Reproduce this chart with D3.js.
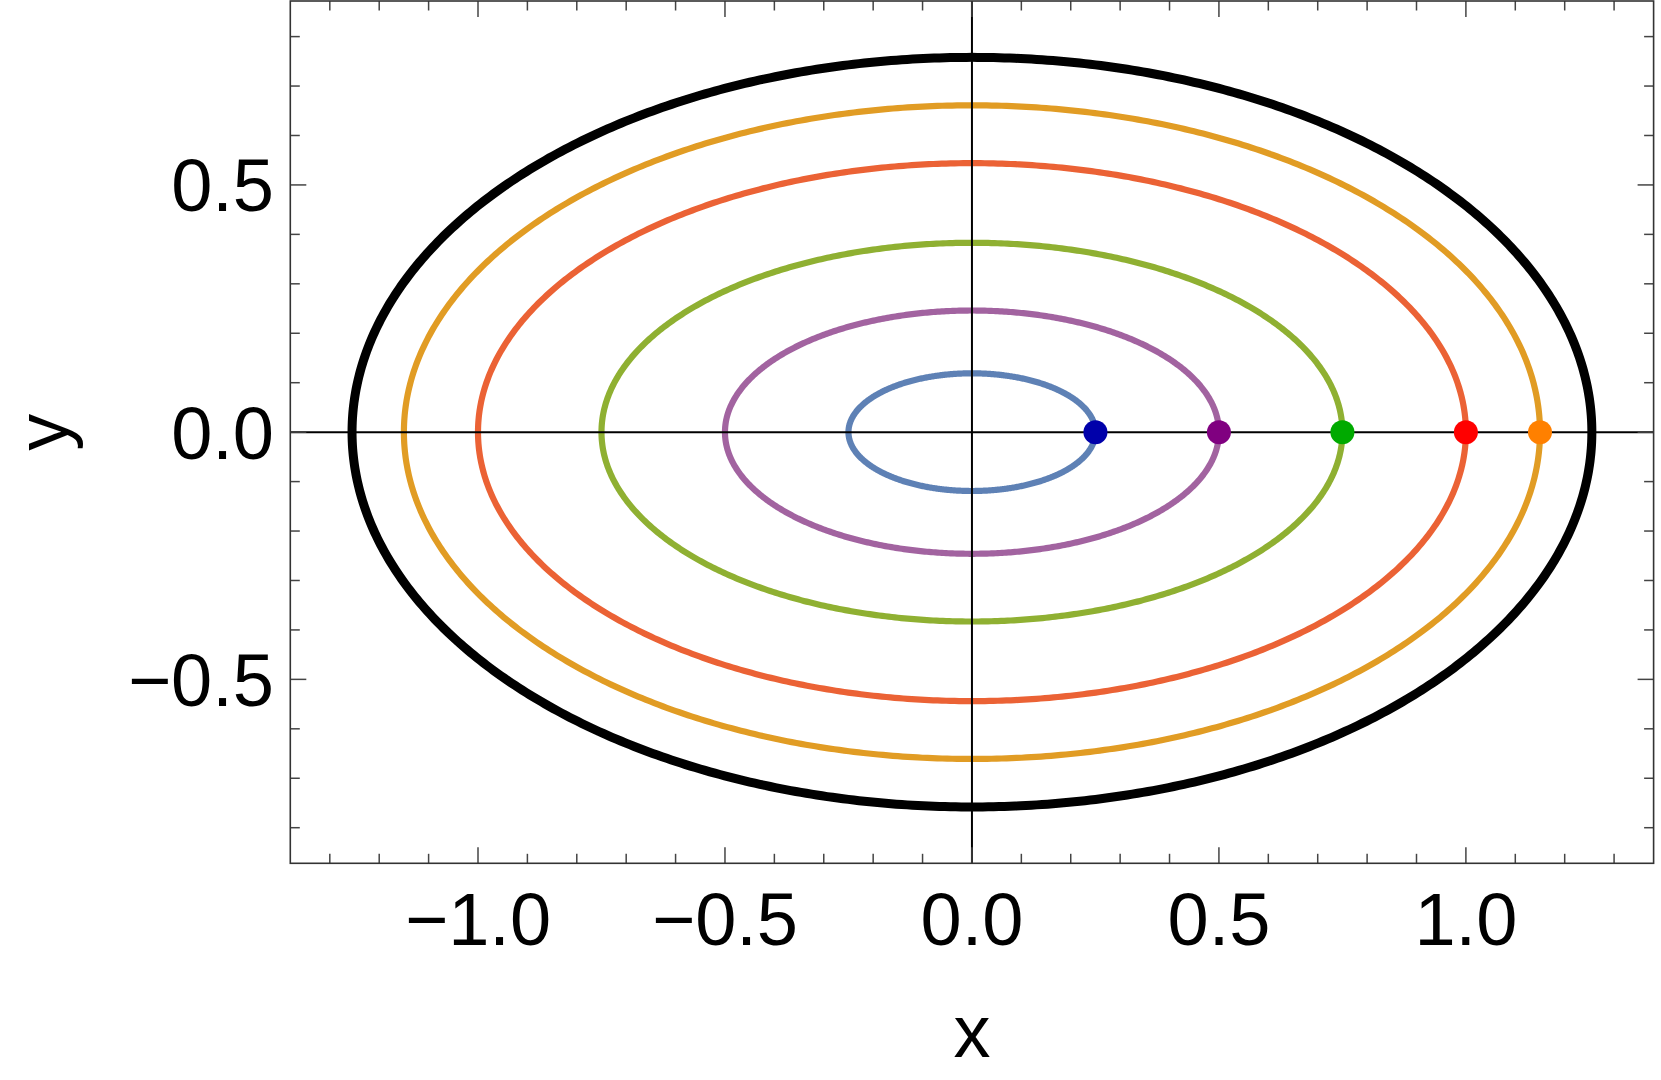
<!DOCTYPE html>
<html>
<head>
<meta charset="utf-8">
<script src="https://cdn.jsdelivr.net/npm/d3@7"></script>
<style>
  html, body { margin: 0; padding: 0; background: #fff; }
  svg { display: block; }
  text { font-family: "Liberation Sans", Arial, sans-serif; }
</style>
</head>
<body>
<svg id="chart" width="1661" height="1080"></svg>
<script>
// ---- data ----
const xDomain = [-1.38, 1.38];
const yDomain = [-0.872, 0.872];
const xMajorTicks = [-1.0, -0.5, 0.0, 0.5, 1.0];
const xTickLabels = ["−1.0", "−0.5", "0.0", "0.5", "1.0"];
const yMajorTicks = [-0.5, 0.0, 0.5];
const yTickLabels = ["−0.5", "0.0", "0.5"];
const xMinorTicks = [-1.3,-1.2,-1.1,-0.9,-0.8,-0.7,-0.6,-0.4,-0.3,-0.2,-0.1,0.1,0.2,0.3,0.4,0.6,0.7,0.8,0.9,1.1,1.2,1.3];
const yMinorTicks = [-0.8,-0.7,-0.6,-0.4,-0.3,-0.2,-0.1,0.1,0.2,0.3,0.4,0.6,0.7,0.8];

const orbitSemiX = [0.25, 0.50, 0.75, 1.00, 1.15, 1.255];
const orbitSemiY = [0.119, 0.246, 0.383, 0.544, 0.661, 0.758];
const orbitColors = ["#5E81B5", "#A263A0", "#8FB032", "#EB6235", "#E19C24", "#000000"];
const orbitWidths = [6.2, 6.2, 6.2, 6.2, 6.2, 9];

const pointX = [0.25, 0.50, 0.75, 1.00, 1.15];
const pointY = [0, 0, 0, 0, 0];
const pointColors = ["#0000AA", "#800080", "#00AA00", "#FF0000", "#FF8000"];

const xTitle = "x";
const yTitle = "y";

// ---- layout ----
const svg = d3.select("#chart");
const L = 290.3, R = 1653.6, T = 1, B = 863.3;
const x = d3.scaleLinear().domain(xDomain).range([L, R]);
const y = d3.scaleLinear().domain(yDomain).range([B, T]);

// curves
const nSamples = 720;
const angles = d3.range(nSamples).map(i => 2 * Math.PI * i / nSamples);
const line = d3.line().x(d => x(d[0])).y(d => y(d[1])).curve(d3.curveLinearClosed);
const orbitG = svg.append("g");
orbitSemiX.forEach((a, i) => {
  const b = orbitSemiY[i];
  const pts = angles.map(t => [a * Math.cos(t), b * Math.sin(t)]);
  orbitG.append("path")
    .attr("d", line(pts))
    .attr("fill", "none")
    .attr("stroke", orbitColors[i])
    .attr("stroke-width", orbitWidths[i]);
});

// axes lines through origin
svg.append("line").attr("x1", L).attr("x2", R).attr("y1", y(0)).attr("y2", y(0))
  .attr("stroke", "#000").attr("stroke-width", 2);
svg.append("line").attr("x1", x(0)).attr("x2", x(0)).attr("y1", T).attr("y2", B)
  .attr("stroke", "#000").attr("stroke-width", 2);

// frame ticks
const tickColor = "#444";
const majorLen = 16, minorLen = 9.5;
const tickG = svg.append("g").attr("stroke", tickColor).attr("stroke-width", 1.5);
function xTicks(vals, len) {
  vals.forEach(v => {
    tickG.append("line").attr("x1", x(v)).attr("x2", x(v)).attr("y1", B).attr("y2", B - len);
    tickG.append("line").attr("x1", x(v)).attr("x2", x(v)).attr("y1", T).attr("y2", T + len);
  });
}
function yTicks(vals, len) {
  vals.forEach(v => {
    tickG.append("line").attr("y1", y(v)).attr("y2", y(v)).attr("x1", L).attr("x2", L + len);
    tickG.append("line").attr("y1", y(v)).attr("y2", y(v)).attr("x1", R).attr("x2", R - len);
  });
}
xTicks(xMajorTicks, majorLen);
xTicks(xMinorTicks, minorLen);
yTicks(yMajorTicks, majorLen);
yTicks(yMinorTicks, minorLen);

// frame
svg.append("rect").attr("x", L).attr("y", T).attr("width", R - L).attr("height", B - T)
  .attr("fill", "none").attr("stroke", "#333").attr("stroke-width", 1.6);

// points
svg.append("g").selectAll("circle").data(pointX).join("circle")
  .attr("cx", d => x(d))
  .attr("cy", (d, i) => y(pointY[i]))
  .attr("r", 12)
  .attr("fill", (d, i) => pointColors[i]);

// tick labels
const fs = 74;
svg.append("g").selectAll("text").data(xMajorTicks).join("text")
  .attr("x", d => x(d))
  .attr("y", 945)
  .attr("text-anchor", "middle")
  .attr("font-size", fs)
  .attr("fill", "#000")
  .text((d, i) => xTickLabels[i]);

svg.append("g").selectAll("text").data(yMajorTicks).join("text")
  .attr("x", 274)
  .attr("y", d => y(d) + 26.5)
  .attr("text-anchor", "end")
  .attr("font-size", fs)
  .attr("fill", "#000")
  .text((d, i) => yTickLabels[i]);

// axis titles
svg.append("text")
  .attr("x", x(0)).attr("y", 1057)
  .attr("text-anchor", "middle")
  .attr("font-size", fs)
  .text(xTitle);

svg.append("text")
  .attr("transform", `translate(68, ${y(0)}) rotate(-90)`)
  .attr("text-anchor", "middle")
  .attr("font-size", fs)
  .text(yTitle);
</script>
</body>
</html>
